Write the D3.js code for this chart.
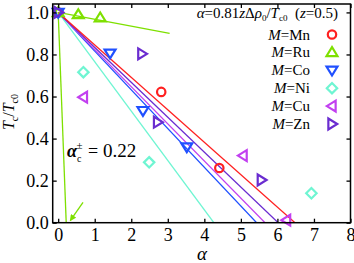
<!DOCTYPE html>
<html>
<head>
<meta charset="utf-8">
<script src="https://cdn.jsdelivr.net/npm/d3@7"></script>
<style>
  body { margin: 0; background: #fff; }
  svg text { font-family: "Liberation Serif", "Times New Roman", serif; }
</style>
</head>
<body>
<div id="chart"></div>
<script>
// data
const xTicks = [0, 1, 2, 3, 4, 5, 6, 7, 8];
const yTicks = [0, 0.2, 0.4, 0.6, 0.8, 1.0];

const seriesNames = ["Mn", "Ru", "Co", "Ni", "Cu", "Zn"];
const seriesColors = ["#ff2020", "#7ee000", "#2050ff", "#6ff5d2", "#c23ff0", "#6a2cd0"];
const seriesShapes = ["circle", "up", "down", "diamond", "left", "right"];

const mnPoints = [[0, 1], [2.82, 0.622], [4.41, 0.26]];
const ruPoints = [[0, 1], [0.55, 0.99], [1.15, 0.975]];
const coPoints = [[0, 1], [1.42, 0.806], [2.32, 0.533], [3.52, 0.36]];
const niPoints = [[0.69, 0.716], [2.49, 0.287], [6.93, 0.14]];
const cuPoints = [[0.69, 0.597], [5.06, 0.319], [6.25, 0.012]];
const znPoints = [[0, 1], [2.29, 0.803], [2.72, 0.478], [5.56, 0.203]];
const allPoints = [mnPoints, ruPoints, coPoints, niPoints, cuPoints, znPoints];

// linear fits: start (0,1), end point
const fitEnds = [[6.48, 0], [3.05, 0.9], [5.43, 0], [4.26, 0], [5.66, 0], [6.02, 0]];
const alphaC = 0.22;

const serif = "'Liberation Serif', 'Times New Roman', serif";
const width = 354, height = 263;
const svg = d3.select("#chart").append("svg")
  .attr("width", width).attr("height", height);

const x = d3.scaleLinear().domain([-0.15, 8]).range([52.7, 350.5]);
const y = d3.scaleLinear().domain([0, 1.04]).range([222.7, 4]);

const defs = svg.append("defs");
defs.append("clipPath").attr("id", "clip")
  .append("rect")
  .attr("x", x(-0.15)).attr("y", y(1.04))
  .attr("width", x(8) - x(-0.15)).attr("height", y(0) - y(1.04));

const plot = svg.append("g").attr("clip-path", "url(#clip)");

// fit lines
const lineOrder = [1, 3, 2, 4, 5, 0];
lineOrder.forEach(i => {
  plot.append("line")
    .attr("x1", x(0)).attr("y1", y(1))
    .attr("x2", x(fitEnds[i][0])).attr("y2", y(fitEnds[i][1]))
    .attr("stroke", seriesColors[i]).attr("stroke-width", 1.3);
});
// steep alpha_c line
plot.append("line")
  .attr("x1", x(0)).attr("y1", y(1))
  .attr("x2", x(alphaC)).attr("y2", y(0))
  .attr("stroke", seriesColors[1]).attr("stroke-width", 1.3);

// arrow
defs.append("marker").attr("id", "arrow")
  .attr("viewBox", "0 0 10 10").attr("refX", 9).attr("refY", 5)
  .attr("markerWidth", 5).attr("markerHeight", 5).attr("orient", "auto")
  .append("path").attr("d", "M0,0L10,5L0,10z").attr("fill", seriesColors[1]);
svg.append("line")
  .attr("x1", x(0.68)).attr("y1", y(0.097))
  .attr("x2", x(0.33)).attr("y2", y(0.01))
  .attr("stroke", seriesColors[1]).attr("stroke-width", 1.3)
  .attr("marker-end", "url(#arrow)");

function shapePath(shape, s) {
  switch (shape) {
    case "up": return `M0,${-s}L${s * 1.05},${s * 0.7}L${-s * 1.05},${s * 0.7}Z`;
    case "down": return `M0,${s}L${s * 1.05},${-s * 0.7}L${-s * 1.05},${-s * 0.7}Z`;
    case "left": return `M${-s},0L${s * 0.7},${-s * 1.05}L${s * 0.7},${s * 1.05}Z`;
    case "right": return `M${s},0L${-s * 0.7},${-s * 1.05}L${-s * 0.7},${s * 1.05}Z`;
    case "diamond": return `M0,${-s}L${s},0L0,${s}L${-s},0Z`;
  }
}

function drawMarker(g, shape, color, cx, cy) {
  if (shape === "circle") {
    g.append("circle").attr("cx", cx).attr("cy", cy).attr("r", 4.2)
      .attr("fill", "none").attr("stroke", color).attr("stroke-width", 2.2);
  } else {
    g.append("path").attr("d", shapePath(shape, 5.2))
      .attr("transform", `translate(${cx},${cy})`)
      .attr("fill", "none").attr("stroke", color).attr("stroke-width", 2.2)
      .attr("stroke-linejoin", "miter");
  }
}

allPoints.forEach((pts, i) => {
  pts.forEach(p => drawMarker(svg, seriesShapes[i], seriesColors[i], x(p[0]), y(p[1])));
});

// frame and ticks
svg.append("rect")
  .attr("x", x(-0.15)).attr("y", y(1.04))
  .attr("width", x(8) - x(-0.15)).attr("height", y(0) - y(1.04))
  .attr("fill", "none").attr("stroke", "#000").attr("stroke-width", 1.5);

const tl = 4;
const bottomAxis = svg.append("g").attr("transform", `translate(0,${y(0)})`)
  .call(d3.axisBottom(x).tickValues(xTicks).tickSize(-tl).tickPadding(6).tickFormat(d3.format("d")));
const topAxis = svg.append("g").attr("transform", `translate(0,${y(1.04)})`)
  .call(d3.axisTop(x).tickValues(xTicks).tickSize(-tl).tickFormat(""));
const leftAxis = svg.append("g").attr("transform", `translate(${x(-0.15)},0)`)
  .call(d3.axisLeft(y).tickValues(yTicks).tickSize(-tl).tickPadding(4).tickFormat(d3.format(".1f")));
const rightAxis = svg.append("g").attr("transform", `translate(${x(8)},0)`)
  .call(d3.axisRight(y).tickValues(yTicks).tickSize(-tl).tickFormat(""));

[bottomAxis, topAxis, leftAxis, rightAxis].forEach(a => {
  a.attr("font-family", serif).attr("font-size", 18);
  a.select(".domain").remove();
  a.selectAll(".tick line").attr("stroke", "#000").attr("stroke-width", 1.3);
  a.selectAll("text").attr("fill", "#000");
});

// axis titles
svg.append("text")
  .attr("x", 202).attr("y", 260)
  .attr("text-anchor", "middle").attr("font-family", serif)
  .attr("font-size", 19).attr("font-style", "italic")
  .text("α");

const yl = svg.append("text")
  .attr("transform", "translate(14,112) rotate(-90)")
  .attr("text-anchor", "middle").attr("font-family", serif)
  .attr("font-size", 16);
yl.append("tspan").attr("font-style", "italic").text("T");
yl.append("tspan").attr("dy", 4).attr("font-size", 10).text("c");
yl.append("tspan").attr("dy", -4).text("/");
yl.append("tspan").attr("font-style", "italic").text("T");
yl.append("tspan").attr("dy", 4).attr("font-size", 10).text("c0");

// annotation alpha_c
const ann = svg.append("text").attr("x", 67).attr("y", 157)
  .attr("font-family", serif).attr("font-size", 18);
ann.append("tspan").attr("font-style", "italic").attr("font-weight", "bold").text("α");
ann.append("tspan").attr("dy", 5).attr("font-size", 10).text("c");
ann.append("tspan").attr("dy", -13).attr("dx", -5).attr("font-size", 11).text("±");
ann.append("tspan").attr("dy", 8).attr("x", 88).text("=");
ann.append("tspan").attr("x", 103).attr("font-size", 19).text("0.22");

// legend
const formula = svg.append("text").attr("x", 338).attr("y", 18)
  .attr("text-anchor", "end").attr("font-family", serif).attr("font-size", 15);
formula.append("tspan").attr("font-style", "italic").text("α");
formula.append("tspan").text("=0.81");
formula.append("tspan").attr("font-style", "italic").text("z");
formula.append("tspan").text("Δ");
formula.append("tspan").attr("font-style", "italic").text("ρ");
formula.append("tspan").attr("dy", 3).attr("font-size", 9).text("0");
formula.append("tspan").attr("dy", -3).text("/");
formula.append("tspan").attr("font-style", "italic").text("T");
formula.append("tspan").attr("dy", 3).attr("font-size", 9).text("c0");
formula.append("tspan").attr("dy", -3).text("\u00a0\u00a0(");
formula.append("tspan").attr("font-style", "italic").text("z");
formula.append("tspan").text("=0.5)");

const legendY0 = 34.5, legendStep = 17.9;
seriesNames.forEach((name, i) => {
  const ly = legendY0 + i * legendStep;
  const t = svg.append("text").attr("x", 310).attr("y", ly + 5)
    .attr("text-anchor", "end").attr("font-family", serif).attr("font-size", 15);
  t.append("tspan").attr("font-style", "italic").text("M");
  t.append("tspan").text("=" + name);
  drawMarker(svg, seriesShapes[i], seriesColors[i], 332, ly);
});
</script>
</body>
</html>
